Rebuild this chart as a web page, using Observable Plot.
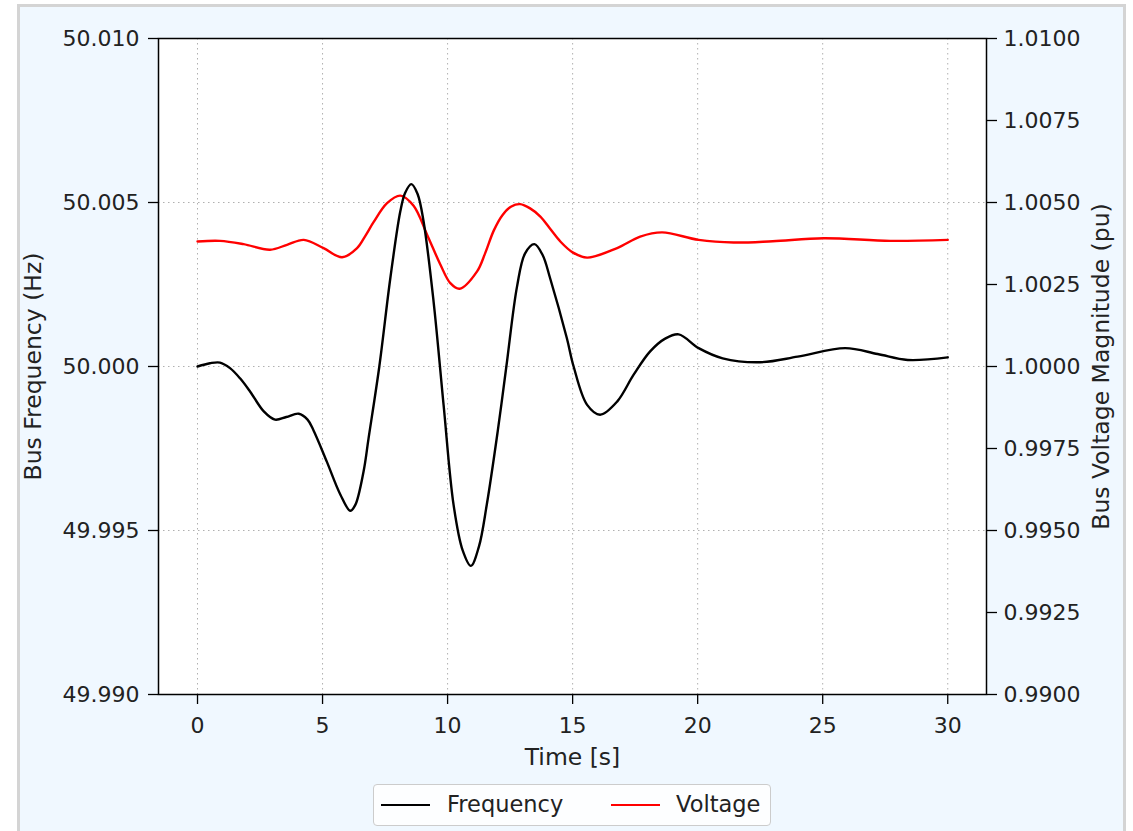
<!DOCTYPE html>
<html>
<head>
<meta charset="utf-8">
<script src="https://cdn.jsdelivr.net/npm/d3@7"></script>
<script src="https://cdn.jsdelivr.net/npm/@observablehq/plot@0.6"></script>
<style>
  body { margin: 0; background: #ffffff; font-family: "DejaVu Sans", sans-serif; }
  #frame { position: absolute; left: 17px; top: 4px; width: 1103px; height: 840px;
           border: 3px solid #d4d4d4; background: #f0f8ff; }
  #chart { position: absolute; left: 0; top: 0; width: 1133px; }
  #chart svg { display: block; background: transparent; }
  #legend { position: relative; margin-left: 373px; margin-top: 4px; width: 398px; height: 42px;
            box-sizing: border-box; border: 1px solid #cccccc; border-radius: 4px;
            background: rgba(255,255,255,0.85); font-size: 22.5px; color: #222; }
  #legend .sw { position: absolute; top: 19px; height: 2px; width: 49px; }
  #legend .lb { position: absolute; top: 6px; line-height: 26px; }
</style>
</head>
<body>
<div id="frame"></div>
<div id="chart"></div>
<script>
// ---- data ----
const freqTime = [0, 0.5, 0.9, 1.3, 1.7, 2.1, 2.65, 3.1, 3.55, 4.05, 4.4, 4.64, 5.17, 5.71, 6.11, 6.31, 6.64, 6.84, 7.27, 7.71, 8.11, 8.3, 8.55, 8.8, 9.04, 9.44, 9.84, 10.24, 10.6, 10.93, 11.25, 11.57, 12.0, 12.35, 12.78, 13.1, 13.47, 13.8, 14.1, 14.77, 15.04, 15.58, 16.1, 16.78, 17.44, 18.1, 18.7, 19.24, 20.04, 21.0, 22.5, 24.0, 25.9, 27.2, 28.4, 30];
const freqValue = [50.0000, 50.00010, 50.00012, 49.99995, 49.99964, 49.99924, 49.99863, 49.99838, 49.99846, 49.99856, 49.99838, 49.99805, 49.99710, 49.99610, 49.99560, 49.99578, 49.99680, 49.99781, 50.00000, 50.00269, 50.00473, 50.00529, 50.00556, 50.00526, 50.00442, 50.00198, 49.99883, 49.99578, 49.99440, 49.99392, 49.99450, 49.99580, 49.99800, 50.00000, 50.00245, 50.00345, 50.00373, 50.00340, 50.00269, 50.00086, 50.00000, 49.99883, 49.99853, 49.99893, 49.99975, 50.00046, 50.00085, 50.00098, 50.00056, 50.00025, 50.00013, 50.00030, 50.00056, 50.00038, 50.00020, 50.00028];

const voltTime = [0, 0.9, 1.84, 2.9, 3.58, 4.25, 5.04, 5.78, 6.38, 6.7, 7.04, 7.58, 8.11, 8.64, 9.18, 9.71, 10.11, 10.48, 11.18, 11.5, 11.85, 12.2, 12.55, 12.9, 13.3, 13.71, 14.1, 14.51, 15.0, 15.58, 16.78, 17.7, 18.58, 20.04, 21.44, 23.0, 25.04, 27.7, 30];
const voltValue = [1.00381, 1.00383, 1.00373, 1.00356, 1.00371, 1.00386, 1.00361, 1.00333, 1.00361, 1.00397, 1.00440, 1.00498, 1.00521, 1.00490, 1.00402, 1.00311, 1.00254, 1.00237, 1.00290, 1.00345, 1.00415, 1.00462, 1.00488, 1.00495, 1.00482, 1.00457, 1.00420, 1.00381, 1.00348, 1.00332, 1.00361, 1.00396, 1.00409, 1.00386, 1.00378, 1.00382, 1.00391, 1.00383, 1.00386];

const timeTicks = [0, 5, 10, 15, 20, 25, 30];
const freqTicks = [49.990, 49.995, 50.000, 50.005, 50.010];
const voltTicks = [0.9900, 0.9925, 0.9950, 0.9975, 1.0000, 1.0025, 1.0050, 1.0075, 1.0100];
const seriesNames = ["Frequency", "Voltage"];
const seriesColors = ["#000000", "#ff0000"];

// voltage axis (0.99..1.01) shares the frequency axis span (49.99..50.01): offset 49
const OFFSET = 49;

const freqData = freqTime.map((t, i) => ({t, v: freqValue[i]}));
const voltData = voltTime.map((t, i) => ({t, v: voltValue[i]}));

const FS = 22;
const LFS = 23.5;
const textColor = "#222222";

const plot = Plot.plot({
  width: 1133,
  height: 780,
  marginLeft: 158,
  marginRight: 147,
  marginTop: 38,
  marginBottom: 86,
  style: {fontFamily: "DejaVu Sans, sans-serif", fontSize: FS + "px", background: "transparent", color: textColor},
  x: {domain: [-1.56, 31.55]},
  y: {domain: [49.99, 50.01]},
  marks: [
    Plot.frame({fill: "white", stroke: null}),
    Plot.gridX(timeTicks, {stroke: "#b0b0b0", strokeOpacity: 1, strokeWidth: 1, strokeDasharray: "1.5,3.5"}),
    Plot.gridY(freqTicks.slice(1, -1), {stroke: "#b0b0b0", strokeOpacity: 1, strokeWidth: 1, strokeDasharray: "1.5,3.5"}),
    Plot.line(voltData, {x: "t", y: d => d.v + OFFSET, stroke: seriesColors[1], strokeWidth: 2.4, curve: "catmull-rom"}),
    Plot.line(freqData, {x: "t", y: "v", stroke: seriesColors[0], strokeWidth: 2.4, curve: "catmull-rom"}),
    Plot.frame({stroke: "black", strokeWidth: 1.5, fill: null}),
    Plot.axisX({ticks: timeTicks, tickSize: 10, tickPadding: 13, tickFormat: d3.format("d"), fontSize: FS, label: null, stroke: "black", strokeWidth: 1.3, fill: textColor}),
    Plot.axisY({anchor: "left", ticks: freqTicks, tickSize: 10, tickPadding: 9, tickFormat: d3.format(".3f"), fontSize: FS, label: null, stroke: "black", strokeWidth: 1.3, fill: textColor}),
    Plot.axisY({anchor: "right", ticks: voltTicks.map(v => v + OFFSET), tickSize: 10, tickPadding: 7, tickFormat: d => (d - OFFSET).toFixed(4), fontSize: FS, label: null, stroke: "black", strokeWidth: 1.3, fill: textColor}),
    Plot.text(["Time [s]"], {frameAnchor: "bottom", dy: 63, text: d => d, fontSize: LFS, fill: textColor, lineAnchor: "middle"}),
    Plot.text(["Bus Frequency (Hz)"], {frameAnchor: "left", dx: -125, rotate: -90, text: d => d, fontSize: LFS, fill: textColor, lineAnchor: "middle", textAnchor: "middle"}),
    Plot.text(["Bus Voltage Magnitude (pu)"], {frameAnchor: "right", dx: 115, rotate: -90, text: d => d, fontSize: LFS, fill: textColor, lineAnchor: "middle", textAnchor: "middle"})
  ]
});

const chart = document.getElementById("chart");
chart.appendChild(plot);

const legend = document.createElement("div");
legend.id = "legend";
const positions = [{sw: 7, lb: 73}, {sw: 237, lb: 302}];
seriesNames.forEach((name, i) => {
  const sw = document.createElement("div");
  sw.className = "sw";
  sw.style.left = positions[i].sw + "px";
  sw.style.background = seriesColors[i];
  const lb = document.createElement("div");
  lb.className = "lb";
  lb.style.left = positions[i].lb + "px";
  lb.textContent = name;
  legend.appendChild(sw);
  legend.appendChild(lb);
});
chart.appendChild(legend);
</script>
</body>
</html>
